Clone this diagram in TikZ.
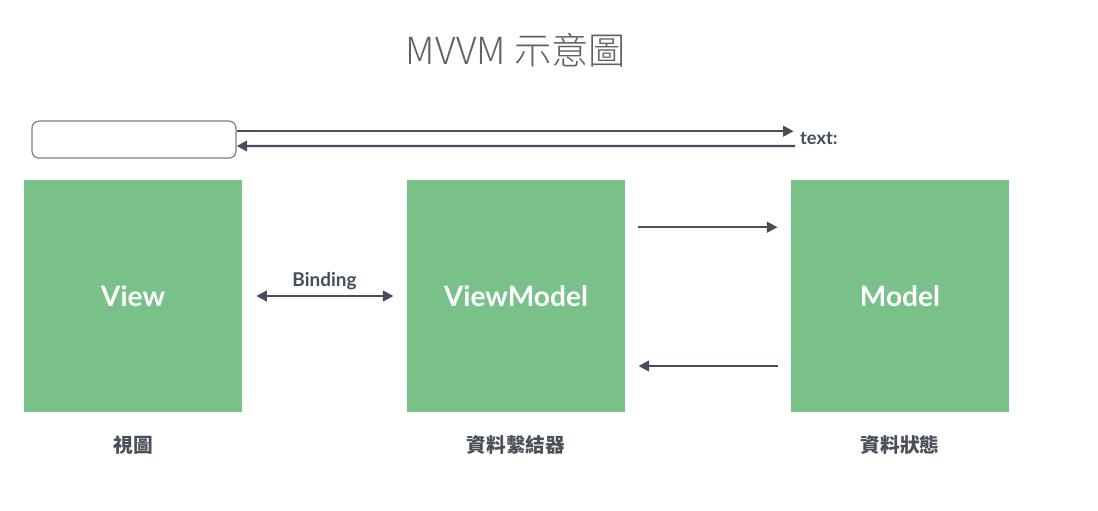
\documentclass[tikz,border=0pt]{standalone}
\usepackage{fontspec}
\setmainfont{Lato}
\newfontfamily\cjk{Noto Sans CJK TC}
\newfontfamily\cjklight{Noto Sans CJK TC Light}
\usetikzlibrary{arrows.meta, positioning}
\definecolor{boxgreen}{RGB}{120,194,138}
\definecolor{arrowgray}{RGB}{69,78,92}
\definecolor{labelgray}{RGB}{74,80,90}

\begin{document}
\begin{tikzpicture}[
    every node/.style={font=\bfseries},
    block/.style={fill=boxgreen, minimum width=5.45cm, minimum height=5.8cm, text=white, font=\fontsize{20}{24}\selectfont\bfseries},
    caption/.style={text=labelgray, font=\fontsize{14}{16}\selectfont\cjk\bfseries},
    link/.style={-{Triangle[length=7.5pt, width=7.5pt]}, line width=1.7pt, draw=arrowgray}
]

    \useasboundingbox (0,0) rectangle (27.45,-12.75);

    % title
    \node[text=black!62, font=\fontsize{26.5}{30}\selectfont\cjklight] (title) at (12.9,-1.25) {MVVM 示意圖};

    % input field
    \node[draw=black!50, line width=0.9pt, rounded corners=5pt, minimum width=5.1cm, minimum height=0.925cm] (input) at (3.35,-3.49) {};
    \node[text=arrowgray, font=\fontsize{13}{15}\selectfont\bfseries, anchor=west] (txt) at (19.88,-3.45) {text:};

    % boxes
    \node[block] (view) at (3.325,-7.4) {View};
    \node[block] (vm) at (12.9,-7.4) {ViewModel};
    \node[block] (model) at (22.5,-7.4) {Model};

    % captions
    \node[caption, below=0.45cm of view] (viewcap) {視圖};
    \node[caption, below=0.45cm of vm] (vmcap) {資料繫結器};
    \node[caption, below=0.45cm of model] (modelcap) {資料狀態};

    % input <-> text
    \draw[link, shorten >=0.04cm] ([yshift=0.21cm]input.east) -- ([yshift=0.17cm]txt.west);
    \draw[link] ([yshift=-0.2cm]txt.west) -- ([yshift=-0.16cm]input.east);

    % binding
    \draw[link, {Triangle[length=7.5pt, width=7.5pt]}-{Triangle[length=7.5pt, width=7.5pt]}, shorten <=0.35cm, shorten >=0.33cm] (view.east) -- (vm.west)
        node[midway, above=0.0cm, text=arrowgray, font=\fontsize{13.5}{16}\selectfont\bfseries] {Binding};

    % viewmodel <-> model
    \draw[link, shorten <=0.33cm, shorten >=0.33cm] ([yshift=1.72cm]vm.east) -- ([yshift=1.72cm]model.west);
    \draw[link, shorten <=0.33cm, shorten >=0.33cm] ([yshift=-1.75cm]model.west) -- ([yshift=-1.75cm]vm.east);

\end{tikzpicture}
\end{document}
